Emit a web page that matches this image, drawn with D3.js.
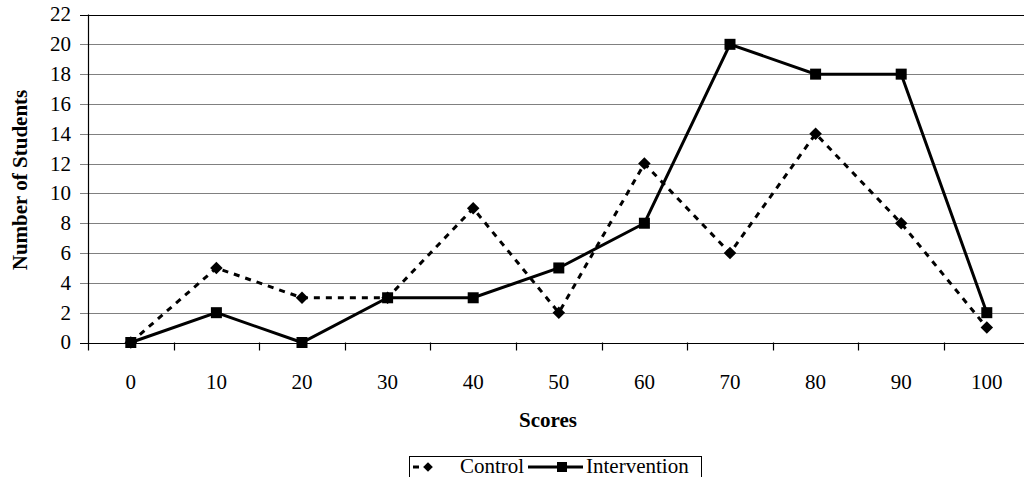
<!DOCTYPE html>
<html>
<head>
<meta charset="utf-8">
<script src="https://cdn.jsdelivr.net/npm/d3@7.9.0/dist/d3.min.js"></script>
<style>
  body { margin: 0; background: #fff; }
  svg text { font-family: "Liberation Serif", "Times New Roman", Times, serif; }
</style>
</head>
<body>
<svg id="chart" width="1024" height="477"></svg>
<script>
const scores = ['0', '10', '20', '30', '40', '50', '60', '70', '80', '90', '100'];
const control = [0, 5, 3, 3, 9, 2, 12, 6, 14, 8, 1];
const intervention = [0, 2, 0, 3, 3, 5, 8, 20, 18, 18, 2];
const yTicks = d3.range(0, 23, 2);

const svg = d3.select('#chart');
const plotLeft = 88, plotTop = 14.5, plotBottom = 342.5, plotRight = 88 + 11 * 85.6;
const fs = 21;

let x = d3.scaleBand().domain(scores).range([plotLeft, plotRight]);
let y = d3.scaleLinear().domain([0, 22]).range([plotBottom, plotTop]);

// gridlines
svg.append('g')
  .selectAll('line')
  .data(yTicks)
  .join('line')
  .attr('x1', plotLeft - 8)
  .attr('x2', plotRight)
  .attr('y1', d => Math.round(y(d)) + 0.5)
  .attr('y2', d => Math.round(y(d)) + 0.5)
  .attr('stroke', d => (d === 0 || d === 22) ? '#000' : '#808080')
  .attr('stroke-width', 1.2);

// y labels
svg.append('g')
  .selectAll('text')
  .data(yTicks)
  .join('text')
  .attr('x', 71)
  .attr('y', d => y(d))
  .attr('dy', '0.33em')
  .attr('text-anchor', 'end')
  .attr('font-size', fs)
  .text(d => d);

// left axis line
svg.append('line')
  .attr('x1', plotLeft + 0.5).attr('x2', plotLeft + 0.5)
  .attr('y1', plotTop).attr('y2', plotBottom + 8)
  .attr('stroke', '#000').attr('stroke-width', 1.2);

// x ticks between bands
let tickPos = d3.range(1, scores.length).map(i => plotLeft + i * x.bandwidth());
svg.append('g')
  .selectAll('line')
  .data(tickPos)
  .join('line')
  .attr('x1', d => Math.round(d) + 0.5)
  .attr('x2', d => Math.round(d) + 0.5)
  .attr('y1', plotBottom)
  .attr('y2', plotBottom + 8)
  .attr('stroke', '#000')
  .attr('stroke-width', 1.2);

// x labels
svg.append('g')
  .selectAll('text')
  .data(scores)
  .join('text')
  .attr('x', d => x(d) + x.bandwidth() / 2)
  .attr('y', 389)
  .attr('text-anchor', 'middle')
  .attr('font-size', fs)
  .text(d => d);

// axis titles
svg.append('text')
  .attr('x', 548).attr('y', 427)
  .attr('text-anchor', 'middle')
  .attr('font-size', fs).attr('font-weight', 'bold')
  .text('Scores');

svg.append('text')
  .attr('transform', 'translate(27,180) rotate(-90)')
  .attr('text-anchor', 'middle')
  .attr('font-size', fs).attr('font-weight', 'bold')
  .text('Number of Students');

let line = d3.line()
  .x((d, i) => x(scores[i]) + x.bandwidth() / 2)
  .y(d => y(d));

// control (dashed, diamonds)
svg.append('path')
  .attr('d', line(control))
  .attr('fill', 'none')
  .attr('stroke', '#000')
  .attr('stroke-width', 3)
  .attr('stroke-dasharray', '6,6');

svg.append('g')
  .selectAll('path')
  .data(control)
  .join('path')
  .attr('d', d3.symbol(d3.symbolDiamond2, 100))
  .attr('transform', (d, i) => `translate(${x(scores[i]) + x.bandwidth() / 2},${y(d)})`)
  .attr('fill', '#000');

// intervention (solid, squares)
svg.append('path')
  .attr('d', line(intervention))
  .attr('fill', 'none')
  .attr('stroke', '#000')
  .attr('stroke-width', 3);

svg.append('g')
  .selectAll('rect')
  .data(intervention)
  .join('rect')
  .attr('x', (d, i) => x(scores[i]) + x.bandwidth() / 2 - 5.5)
  .attr('y', d => y(d) - 5.5)
  .attr('width', 11)
  .attr('height', 11)
  .attr('fill', '#000');

// legend
const lg = svg.append('g');
lg.append('rect')
  .attr('x', 409.5).attr('y', 456.5)
  .attr('width', 292).attr('height', 30)
  .attr('fill', '#fff').attr('stroke', '#000').attr('stroke-width', 1);

lg.append('line')
  .attr('x1', 413).attr('x2', 419).attr('y1', 467).attr('y2', 467)
  .attr('stroke', '#000').attr('stroke-width', 3);
lg.append('path')
  .attr('d', d3.symbol(d3.symbolDiamond2, 60))
  .attr('transform', 'translate(428,467)')
  .attr('fill', '#000');
lg.append('text')
  .attr('x', 460).attr('y', 473)
  .attr('font-size', fs)
  .text('Control');

lg.append('line')
  .attr('x1', 528).attr('x2', 583).attr('y1', 467).attr('y2', 467)
  .attr('stroke', '#000').attr('stroke-width', 3);
lg.append('rect')
  .attr('x', 557).attr('y', 462).attr('width', 10).attr('height', 10)
  .attr('fill', '#000');
lg.append('text')
  .attr('x', 586).attr('y', 473)
  .attr('font-size', fs)
  .text('Intervention');
</script>
</body>
</html>
